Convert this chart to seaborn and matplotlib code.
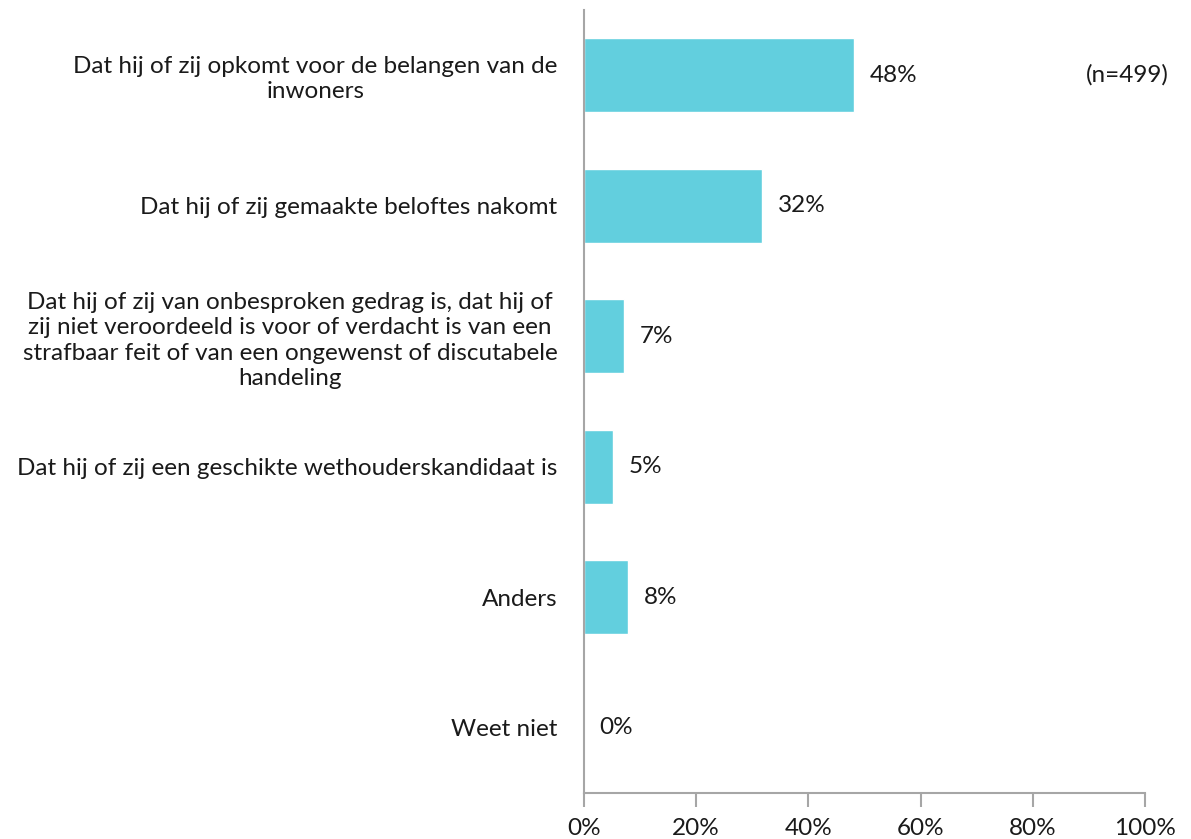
import matplotlib
matplotlib.use("Agg")
import matplotlib.pyplot as plt
import seaborn as sns
import pandas as pd

categories = [
    "Dat hij of zij opkomt voor de belangen van de\ninwoners",
    "Dat hij of zij gemaakte beloftes nakomt",
    "Dat hij of zij van onbesproken gedrag is, dat hij of\nzij niet veroordeeld is voor of verdacht is van een\nstrafbaar feit of van een ongewenst of discutabele\nhandeling",
    "Dat hij of zij een geschikte wethouderskandidaat is",
    "Anders",
    "Weet niet",
]
values = [48.2, 31.8, 7.2, 5.2, 7.9, 0.0]
value_labels = ["48%", "32%", "7%", "5%", "8%", "0%"]
x_ticks = [0, 20, 40, 60, 80, 100]
note = "(n=499)"

data = pd.DataFrame({"Categorie": categories, "Percentage": values})

sns.set_style("white")
plt.rcParams["font.family"] = ["Lato", "DejaVu Sans"]
fs = 17.5

fig = plt.figure(figsize=(11.91, 8.39), dpi=100)
ax = fig.add_axes([584 / 1191, 1 - 793 / 839, (1145 - 584) / 1191, (793 - 10) / 839])

sns.barplot(data=data, x="Percentage", y="Categorie", color="#62CFDE",
            width=0.565, saturation=1, ax=ax)

for i, (v, lab) in enumerate(zip(values, value_labels)):
    ax.text(v + 2.7, i, lab, va="center", ha="left", fontsize=fs, color="#1a1a1a")

ax.text(89.5, 0, note, va="center", ha="left", fontsize=fs, color="#1a1a1a")

ax.set_xlim(0, 100)
ax.set_xticks(x_ticks)
ax.set_xticklabels([f"{t}%" for t in x_ticks], fontsize=fs, color="#1a1a1a")
ax.set_xlabel("")
ax.set_ylabel("")
ax.tick_params(axis="y", left=False, length=0, pad=19, labelsize=fs, labelcolor="#1a1a1a")
ax.tick_params(axis="x", bottom=True, length=10, width=1.5, color="#a6a6a6", pad=8, direction="out")
for lab in ax.get_yticklabels():
    lab.set_multialignment("center")
    lab.set_linespacing(1.25)

for side in ["top", "right"]:
    ax.spines[side].set_visible(False)
for side in ["left", "bottom"]:
    ax.spines[side].set_color("#a6a6a6")
    ax.spines[side].set_linewidth(1.5)

plt.savefig("out.png", dpi=100)
plt.close()
